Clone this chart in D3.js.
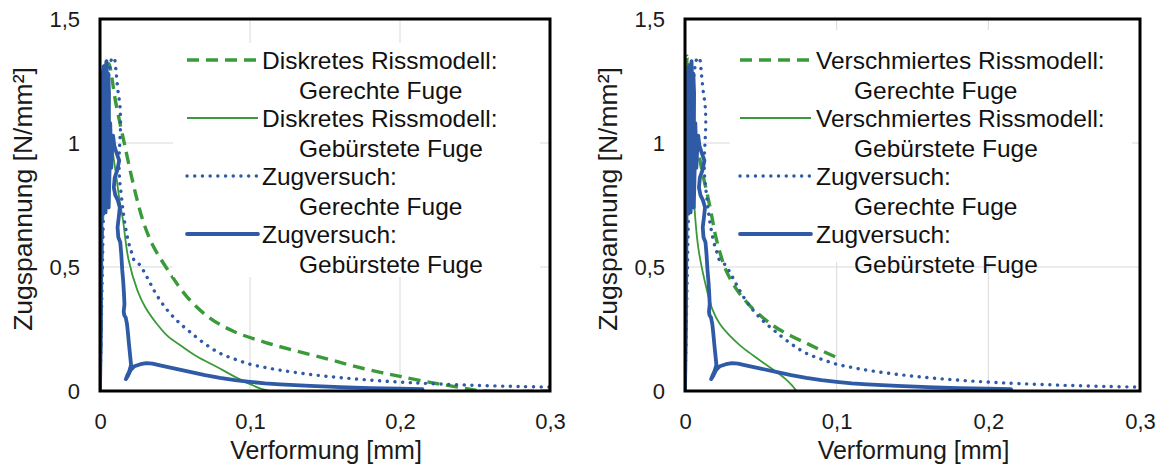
<!DOCTYPE html>
<html lang="de">
<head>
<meta charset="utf-8">
<title>Zugspannung – Verformung</title>
<script src="https://cdn.jsdelivr.net/npm/d3@7/dist/d3.min.js"></script>
<style>
  html, body { margin: 0; padding: 0; background: #fff; }
  svg { display: block; font-family: "Liberation Sans", Arial, sans-serif; }
</style>
</head>
<body>
<script>
// ---- Achsen ----
const xTicks = [0, 0.1, 0.2, 0.3];
const xTickLabels = ["0", "0,1", "0,2", "0,3"];
const yTicks = [0, 0.5, 1, 1.5];
const yTickLabels = ["0", "0,5", "1", "1,5"];
const xTitle = "Verformung [mm]";
const yTitle = "Zugspannung [N/mm²]";

// ---- Versuchsdaten (Verformung [mm], Zugspannung [N/mm²]) ----
const zugGerechte = [
  [0, 0], [0.001, 0.3], [0.002, 0.62], [0.003, 0.9], [0.004, 1.08], [0.005, 1.2],
  [0.006, 1.28], [0.007, 1.32], [0.0082, 1.345], [0.0095, 1.34], [0.0108, 1.28],
  [0.012, 1.21], [0.0133, 1.15], [0.0137, 1.08], [0.0132, 1.0], [0.0127, 0.93],
  [0.013, 0.86], [0.0142, 0.79], [0.0155, 0.72], [0.017, 0.66], [0.019, 0.6],
  [0.021, 0.56], [0.023, 0.525], [0.026, 0.512], [0.029, 0.485], [0.033, 0.44],
  [0.038, 0.385], [0.045, 0.325], [0.052, 0.28], [0.06, 0.238], [0.07, 0.19],
  [0.08, 0.152], [0.09, 0.128], [0.1, 0.108], [0.11, 0.095], [0.12, 0.084],
  [0.14, 0.067], [0.16, 0.054], [0.18, 0.044], [0.2, 0.036], [0.22, 0.03],
  [0.25, 0.023], [0.28, 0.018], [0.3, 0.016]
];
const zugGebuerstet = [
  [0, 0], [0.0006, 0.25], [0.0009, 0.6], [0.0012, 0.95], [0.0015, 1.2], [0.002, 1.29],
  [0.0025, 1.31], [0.003, 1.27], [0.0028, 1.05], [0.0024, 0.82], [0.0022, 0.73],
  [0.0027, 0.9], [0.0033, 1.15], [0.0038, 1.3], [0.0043, 1.33], [0.0047, 1.25],
  [0.0045, 1.0], [0.004, 0.8], [0.0037, 0.72], [0.0043, 0.88], [0.005, 1.12],
  [0.0055, 1.28], [0.006, 1.2], [0.0058, 0.98], [0.0054, 0.8], [0.0058, 0.74],
  [0.0064, 0.9], [0.0068, 1.08], [0.0072, 1.0], [0.0075, 0.9], [0.008, 0.97],
  [0.0087, 1.03], [0.0095, 0.99], [0.011, 0.96], [0.0128, 0.93], [0.0115, 0.89],
  [0.0098, 0.86], [0.0092, 0.82], [0.0102, 0.79], [0.0118, 0.77], [0.0132, 0.74],
  [0.0125, 0.7], [0.0117, 0.66], [0.0122, 0.62], [0.0135, 0.6], [0.0142, 0.55],
  [0.0148, 0.49], [0.0155, 0.44], [0.016, 0.39], [0.0163, 0.35], [0.0158, 0.32],
  [0.0162, 0.305], [0.0172, 0.295], [0.018, 0.27], [0.0187, 0.23], [0.0193, 0.19],
  [0.0198, 0.16], [0.0203, 0.13], [0.0207, 0.105], [0.0195, 0.08], [0.018, 0.06],
  [0.0172, 0.048], [0.0185, 0.06], [0.0205, 0.085], [0.023, 0.1], [0.027, 0.108],
  [0.031, 0.112], [0.035, 0.11], [0.04, 0.103], [0.05, 0.09], [0.06, 0.077],
  [0.07, 0.064], [0.08, 0.053], [0.09, 0.044], [0.1, 0.037], [0.11, 0.031],
  [0.12, 0.027], [0.14, 0.021], [0.16, 0.016], [0.18, 0.012], [0.2, 0.009],
  [0.215, 0.007]
];

// ---- Diskretes Rissmodell ----
const diskretGerechte = [
  [0, 0], [0.002, 0.8], [0.004, 1.25], [0.006, 1.32], [0.008, 1.26], [0.01, 1.18],
  [0.0133, 1.08], [0.0167, 0.985], [0.021, 0.865], [0.025, 0.765], [0.029, 0.68],
  [0.035, 0.59], [0.045, 0.49], [0.058, 0.38], [0.073, 0.295], [0.09, 0.238],
  [0.11, 0.196], [0.13, 0.163], [0.153, 0.127], [0.17, 0.099], [0.187, 0.075],
  [0.2, 0.059], [0.22, 0.035], [0.24, 0.014], [0.255, 0], [0.3, 0]
];
const diskretGebuerstet = [
  [0, 0], [0.001, 0.5], [0.002, 1.0], [0.003, 1.28], [0.004, 1.32], [0.005, 1.24],
  [0.006, 1.13], [0.008, 0.99], [0.011, 0.86], [0.013, 0.77], [0.0153, 0.69],
  [0.019, 0.53], [0.025, 0.405], [0.03, 0.34], [0.038, 0.27], [0.045, 0.222],
  [0.055, 0.178], [0.065, 0.138], [0.078, 0.097], [0.09, 0.057], [0.1, 0.028],
  [0.113, 0], [0.3, 0]
];

// ---- Verschmiertes Rissmodell ----
const verschmiertGerechte = [
  [0, 0], [0.0008, 0.8], [0.0015, 1.35], [0.003, 1.25], [0.005, 1.1], [0.0066, 1.03],
  [0.0099, 0.93], [0.012, 0.865], [0.0145, 0.8], [0.0178, 0.7], [0.02, 0.63],
  [0.023, 0.56], [0.0264, 0.495], [0.03, 0.45], [0.034, 0.41], [0.0376, 0.38],
  [0.045, 0.33], [0.059, 0.26], [0.07, 0.222], [0.081, 0.19], [0.09, 0.163],
  [0.099, 0.138]
];
const verschmiertGebuerstet = [
  [0, 0], [0.0005, 0.7], [0.001, 1.33], [0.002, 1.2], [0.003, 1.05], [0.005, 0.85],
  [0.0087, 0.58], [0.0143, 0.41], [0.018, 0.33], [0.023, 0.27], [0.03, 0.22],
  [0.037, 0.18], [0.045, 0.143], [0.052, 0.112], [0.059, 0.083], [0.066, 0.05],
  [0.071, 0.02], [0.074, 0], [0.1, 0]
];

// ---- Legendentexte ----
const legendLeft = [
  ["Diskretes Rissmodell:", "Gerechte Fuge"],
  ["Diskretes Rissmodell:", "Gebürstete Fuge"],
  ["Zugversuch:", "Gerechte Fuge"],
  ["Zugversuch:", "Gebürstete Fuge"]
];
const legendRight = [
  ["Verschmiertes Rissmodell:", "Gerechte Fuge"],
  ["Verschmiertes Rissmodell:", "Gebürstete Fuge"],
  ["Zugversuch:", "Gerechte Fuge"],
  ["Zugversuch:", "Gebürstete Fuge"]
];

// ---- Linienstile ----
const GREEN = "#3a9a3a";
const BLUE = "#2f5aa6";
const styles = {
  modelGerechte:   { stroke: GREEN, width: 3.4, dash: "12 7", cap: "butt", smooth: true },
  modelGebuerstet: { stroke: GREEN, width: 1.8, dash: null, cap: "butt", smooth: true },
  zugGerechte:     { stroke: BLUE, width: 3.4, dash: "0.1 7.6", cap: "round", smooth: true },
  zugGebuerstet:   { stroke: BLUE, width: 3.8, dash: null, cap: "round", smooth: false }
};

const panels = [
  {
    box: { left: 100, right: 550, top: 19, bottom: 391 },
    legendBg: { x0: 173, y0: 43, x1: 540, y1: 277 },
    legend: { sx0: 187, sx1: 258, tx: 262, tx2: 299, y0: 60 },
    labels: legendLeft,
    series: [
      [diskretGerechte, "modelGerechte"],
      [diskretGebuerstet, "modelGebuerstet"],
      [zugGerechte, "zugGerechte"],
      [zugGebuerstet, "zugGebuerstet"]
    ]
  },
  {
    box: { left: 685, right: 1140, top: 19, bottom: 391 },
    legendBg: { x0: 730, y0: 30, x1: 1132, y1: 262 },
    legend: { sx0: 740, sx1: 811, tx: 816, tx2: 854, y0: 60 },
    labels: legendRight,
    series: [
      [verschmiertGerechte, "modelGerechte"],
      [verschmiertGebuerstet, "modelGebuerstet"],
      [zugGerechte, "zugGerechte"],
      [zugGebuerstet, "zugGebuerstet"]
    ]
  }
];

const W = 1170, H = 466;
const svg = d3.select("body").append("svg").attr("width", W).attr("height", H);

function applyStyle(sel, st) {
  sel.attr("fill", "none")
     .attr("stroke", st.stroke)
     .attr("stroke-width", st.width)
     .attr("stroke-linecap", st.cap)
     .attr("stroke-linejoin", "round");
  if (st.dash) sel.attr("stroke-dasharray", st.dash);
  return sel;
}

panels.forEach((p, pi) => {
  const b = p.box;
  const x = d3.scaleLinear().domain([0, 0.3]).range([b.left, b.right]);
  const y = d3.scaleLinear().domain([0, 1.5]).range([b.bottom, b.top]);
  const g = svg.append("g").attr("class", "panel-" + pi);

  const clipId = "clip-" + pi;
  svg.append("defs").append("clipPath").attr("id", clipId)
    .append("rect").attr("x", b.left).attr("y", b.top)
    .attr("width", b.right - b.left).attr("height", b.bottom - b.top);

  // Gitternetzlinien
  g.append("g").selectAll("line").data(yTicks.slice(1, -1)).join("line")
    .attr("x1", b.left).attr("x2", b.right)
    .attr("y1", d => y(d)).attr("y2", d => y(d))
    .attr("stroke", "#d9d9d9").attr("stroke-width", 1);
  g.append("g").selectAll("line").data(xTicks.slice(1, -1)).join("line")
    .attr("y1", b.top).attr("y2", b.bottom)
    .attr("x1", d => x(d)).attr("x2", d => x(d))
    .attr("stroke", "#d9d9d9").attr("stroke-width", 1);

  // Kurven
  const curves = g.append("g").attr("clip-path", `url(#${clipId})`);
  p.series.forEach(([data, key]) => {
    const st = styles[key];
    const line = d3.line()
      .x(d => x(d[0])).y(d => y(d[1]))
      .curve(st.smooth ? d3.curveCatmullRom.alpha(0.5) : d3.curveLinear);
    applyStyle(curves.append("path").datum(data).attr("d", line), st);
  });

  // Legende
  const L = p.legend, bg = p.legendBg;
  const lg = g.append("g");
  lg.append("rect").attr("x", bg.x0).attr("y", bg.y0)
    .attr("width", bg.x1 - bg.x0).attr("height", bg.y1 - bg.y0).attr("fill", "#fff");
  p.series.forEach(([, key], i) => {
    const yy = L.y0 + i * 58;
    applyStyle(lg.append("line").attr("x1", L.sx0).attr("x2", L.sx1)
      .attr("y1", yy).attr("y2", yy), styles[key]);
    lg.append("text").attr("x", L.tx).attr("y", yy).attr("dy", "0.35em")
      .attr("font-size", 24.5).attr("fill", "#111").text(p.labels[i][0]);
    lg.append("text").attr("x", L.tx2).attr("y", yy + 30).attr("dy", "0.35em")
      .attr("font-size", 24.5).attr("fill", "#111").text(p.labels[i][1]);
  });

  // Rahmen
  g.append("rect").attr("x", b.left).attr("y", b.top)
    .attr("width", b.right - b.left).attr("height", b.bottom - b.top)
    .attr("fill", "none").attr("stroke", "#000").attr("stroke-width", 3);

  // Achsenbeschriftungen
  const xAxis = d3.axisBottom(x).tickValues(xTicks)
    .tickFormat((d, i) => xTickLabels[i]).tickSize(0).tickPadding(22);
  const xa = g.append("g").attr("transform", `translate(0,${b.bottom})`).call(xAxis);
  xa.select(".domain").remove();
  xa.selectAll("text").attr("font-size", 22).attr("font-family", "Liberation Sans, Arial, sans-serif")
    .attr("fill", "#1a1a1a");

  const yAxis = d3.axisLeft(y).tickValues(yTicks)
    .tickFormat((d, i) => yTickLabels[i]).tickSize(0).tickPadding(20);
  const ya = g.append("g").attr("transform", `translate(${b.left},0)`).call(yAxis);
  ya.select(".domain").remove();
  ya.selectAll("text").attr("font-size", 22).attr("font-family", "Liberation Sans, Arial, sans-serif")
    .attr("fill", "#1a1a1a");

  g.append("text")
    .attr("x", (b.left + b.right) / 2 + 1).attr("y", 450).attr("dy", "0.35em")
    .attr("text-anchor", "middle").attr("font-size", 25).attr("fill", "#1a1a1a")
    .text(xTitle);
  g.append("text")
    .attr("transform", `translate(${b.left - 77},${(b.top + b.bottom) / 2 - 6})rotate(-90)`)
    .attr("dy", "0.35em")
    .attr("text-anchor", "middle").attr("font-size", 26.5).attr("fill", "#1a1a1a")
    .text(yTitle);
});
</script>
</body>
</html>
